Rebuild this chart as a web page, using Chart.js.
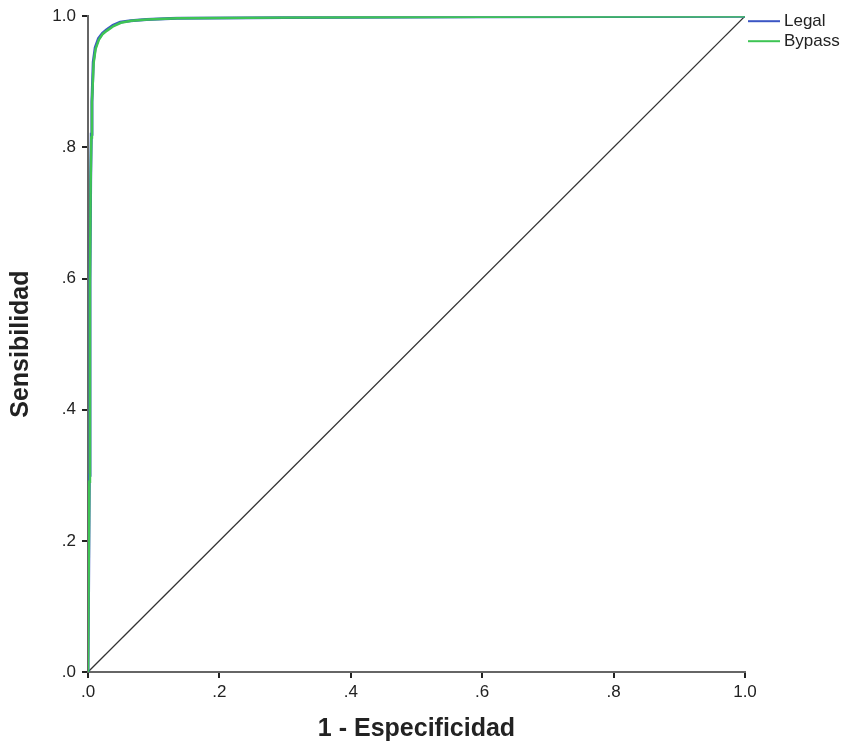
<!DOCTYPE html>
<html>
<head>
<meta charset="utf-8">
<script src="https://cdn.jsdelivr.net/npm/chart.js@4.4.1/dist/chart.umd.min.js"></script>
<style>
  html, body { margin: 0; padding: 0; background: #fff; }
  #wrap { width: 843px; height: 745px; }
</style>
</head>
<body>
<div id="wrap"><canvas id="myChart" width="843" height="745"></canvas></div>
<script>
// ROC curves (1 - specificity vs sensitivity)
const legalFpr = [0, 0.002, 0.003, 0.004, 0.005, 0.006, 0.008, 0.011, 0.016, 0.022, 0.028, 0.038, 0.049, 0.065, 0.089, 0.135, 0.3, 0.6, 1.0];
const legalTpr = [0, 0.3, 0.6, 0.75, 0.82, 0.87, 0.93, 0.952, 0.966, 0.974, 0.979, 0.986, 0.991, 0.993, 0.995, 0.997, 0.998, 0.999, 1.0];
const bypassFpr = [0, 0.002, 0.003, 0.004, 0.005, 0.006, 0.0085, 0.0115, 0.0165, 0.0225, 0.029, 0.039, 0.05, 0.066, 0.09, 0.136, 0.3, 0.6, 1.0];
const bypassTpr = [0, 0.29, 0.59, 0.745, 0.815, 0.868, 0.928, 0.95, 0.964, 0.973, 0.978, 0.985, 0.99, 0.993, 0.995, 0.997, 0.998, 0.999, 1.0];
const refLine = [0, 1];
const tickValues = [0, 0.2, 0.4, 0.6, 0.8, 1.0];
const tickLabels = [".0", ".2", ".4", ".6", ".8", "1.0"];

const toPoints = (xs, ys) => xs.map((x, i) => ({ x: x, y: ys[i] }));

// legend drawn outside the plot, top right
const sideLegend = {
  id: "sideLegend",
  afterDraw(chart) {
    const ctx = chart.ctx;
    const area = chart.chartArea;
    ctx.save();
    ctx.font = "17px 'Liberation Sans', Arial, sans-serif";
    ctx.textBaseline = "middle";
    let y = area.top + 5;
    chart.data.datasets.forEach((ds) => {
      if (!ds.label) return;
      ctx.strokeStyle = ds.borderColor;
      ctx.lineWidth = 2;
      ctx.beginPath();
      ctx.moveTo(area.right + 3, y);
      ctx.lineTo(area.right + 35, y);
      ctx.stroke();
      ctx.fillStyle = "#222";
      ctx.fillText(ds.label, area.right + 39, y);
      y += 20;
    });
    ctx.restore();
  },
};

const ctx = document.getElementById("myChart");
new Chart(ctx, {
  type: "line",
  data: {
    datasets: [
      {
        label: "",
        data: toPoints(refLine, refLine),
        borderColor: "#333",
        borderWidth: 1.3,
        pointRadius: 0,
        order: 3,
      },
      {
        label: "Legal",
        data: toPoints(legalFpr, legalTpr),
        borderColor: "#3b56c4",
        borderWidth: 3,
        pointRadius: 0,
        order: 2,
      },
      {
        label: "Bypass",
        data: toPoints(bypassFpr, bypassTpr),
        borderColor: "#3ec454",
        borderWidth: 2.5,
        pointRadius: 0,
        order: 1,
      },
    ],
  },
  options: {
    responsive: false,
    animation: false,
    layout: { padding: { top: 16, right: 98, left: 0, bottom: 0 } },
    plugins: {
      legend: { display: false },
      tooltip: { enabled: false },
    },
    scales: {
      x: {
        type: "linear",
        min: 0,
        max: 1,
        afterBuildTicks: (scale) => {
          scale.ticks = tickValues.map((v) => ({ value: v }));
        },
        afterFit: (scale) => {
          scale.height = 73;
        },
        ticks: {
          padding: 4,
          color: "#222",
          font: { family: "'Liberation Sans', Arial, sans-serif", size: 17 },
          callback: (v) => tickLabels[tickValues.indexOf(v)],
        },
        grid: { drawOnChartArea: false, drawTicks: true, tickLength: 6, color: "#222", lineWidth: 2 },
        border: { display: true, color: "#666", width: 2 },
        title: {
          display: true,
          text: "1 - Especificidad",
          color: "#222",
          font: { family: "'Liberation Sans', Arial, sans-serif", size: 25, weight: "bold" },
          padding: { top: 0, bottom: 1 },
        },
      },
      y: {
        type: "linear",
        min: 0,
        max: 1,
        afterBuildTicks: (scale) => {
          scale.ticks = tickValues.map((v) => ({ value: v }));
        },
        afterFit: (scale) => {
          scale.width = 88;
        },
        ticks: {
          padding: 6,
          color: "#222",
          font: { family: "'Liberation Sans', Arial, sans-serif", size: 17 },
          callback: (v) => tickLabels[tickValues.indexOf(v)],
        },
        grid: { drawOnChartArea: false, drawTicks: true, tickLength: 6, color: "#222", lineWidth: 2 },
        border: { display: true, color: "#666", width: 2 },
        title: {
          display: true,
          text: "Sensibilidad",
          color: "#222",
          font: { family: "'Liberation Sans', Arial, sans-serif", size: 25, weight: "bold" },
          padding: { top: 6, bottom: 0 },
        },
      },
    },
  },
  plugins: [sideLegend],
});
</script>
</body>
</html>
